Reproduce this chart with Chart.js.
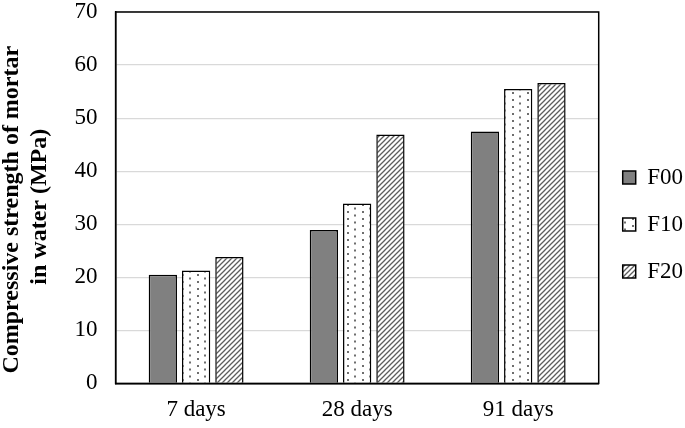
<!DOCTYPE html>
<html>
<head>
<meta charset="utf-8">
<script src="https://cdn.jsdelivr.net/npm/chart.js@4/dist/chart.umd.min.js"></script>
<style>
  html, body { margin: 0; padding: 0; background: #fff; }
  #wrap { width: 685px; height: 428px; }
</style>
</head>
<body>
<div id="wrap"><canvas id="myChart"></canvas></div>
<script>
const categorias = ['7 days', '28 days', '91 days'];
const f00 = [20.5, 28.9, 47.5];
const f10 = [21.3, 33.9, 55.5];
const f20 = [23.8, 46.9, 56.6];
const ticksY = [0, 10, 20, 30, 40, 50, 60, 70];

function pontos() {
  var c = document.createElement('canvas');
  c.width = 15; c.height = 7;
  var g = c.getContext('2d');
  g.fillStyle = '#fff';
  g.fillRect(0, 0, 15, 7);
  g.fillStyle = '#6e6e6e';
  g.fillRect(2, 1, 2, 2);
  g.fillRect(9, 4.5, 2, 2);
  return g.createPattern(c, 'repeat');
}

function listras() {
  var c = document.createElement('canvas');
  c.width = 5; c.height = 5;
  var g = c.getContext('2d');
  g.fillStyle = '#fff';
  g.fillRect(0, 0, 5, 5);
  g.strokeStyle = '#5e5e5e';
  g.lineWidth = 1.3;
  g.beginPath();
  g.moveTo(-1, 6); g.lineTo(6, -1);
  g.moveTo(-1, 1); g.lineTo(1, -1);
  g.moveTo(4, 6); g.lineTo(6, 4);
  g.stroke();
  return g.createPattern(c, 'repeat');
}

// moldura em volta da area do grafico
const moldura = {
  id: 'moldura',
  afterDatasetsDraw(chart) {
    const a = chart.chartArea;
    const g = chart.ctx;
    g.save();
    g.strokeStyle = '#000';
    g.lineWidth = 1.5;
    g.strokeRect(a.left, a.top, a.right - a.left, a.bottom - a.top);
    g.restore();
  }
};

var ctx = document.getElementById('myChart').getContext('2d');
var fonte = 'Liberation Serif, Times New Roman, serif';

var chart = new Chart(ctx, {
  type: 'bar',
  data: {
    labels: categorias,
    datasets: [
      { label: 'F00', data: f00, backgroundColor: '#808080', borderColor: '#000', borderWidth: 1.5 },
      { label: 'F10', data: f10, backgroundColor: pontos(), borderColor: '#000', borderWidth: 1.5 },
      { label: 'F20', data: f20, backgroundColor: listras(), borderColor: '#000', borderWidth: 1.5 }
    ]
  },
  options: {
    responsive: true,
    maintainAspectRatio: false,
    animation: false,
    datasets: { bar: { categoryPercentage: 0.62, barPercentage: 0.85 } },
    layout: { padding: { top: 12, right: -8, left: -3, bottom: -9 } },
    plugins: {
      tooltip: { enabled: false },
      legend: {
        position: 'right',
        labels: {
          font: { family: fonte, size: 23 },
          color: '#000',
          boxWidth: 13,
          boxHeight: 13,
          padding: 24
        }
      }
    },
    scales: {
      x: {
        grid: { display: false, drawTicks: false },
        border: { display: true, color: '#000', width: 1.5 },
        ticks: { font: { family: fonte, size: 23 }, color: '#000', padding: 13 }
      },
      y: {
        min: 0, max: 70,
        afterBuildTicks: function(axis) { axis.ticks = ticksY.map(v => ({ value: v })); },
        afterFit: function(axis) { axis.paddingTop = 0; axis.paddingBottom = 0; },
        grid: { color: '#d9d9d9', lineWidth: 1.2, drawTicks: false },
        border: { display: true, color: '#000', width: 1.5 },
        ticks: { font: { family: fonte, size: 23 }, color: '#000', padding: 18 },
        title: {
          display: true,
          text: ['Compressive strength of mortar    ', 'in water (MPa)   '],
          font: { family: fonte, size: 24, weight: 'bold' },
          color: '#000',
          padding: { top: 0, bottom: 2 }
        }
      }
    }
  },
  plugins: [moldura]
});
</script>
</body>
</html>
